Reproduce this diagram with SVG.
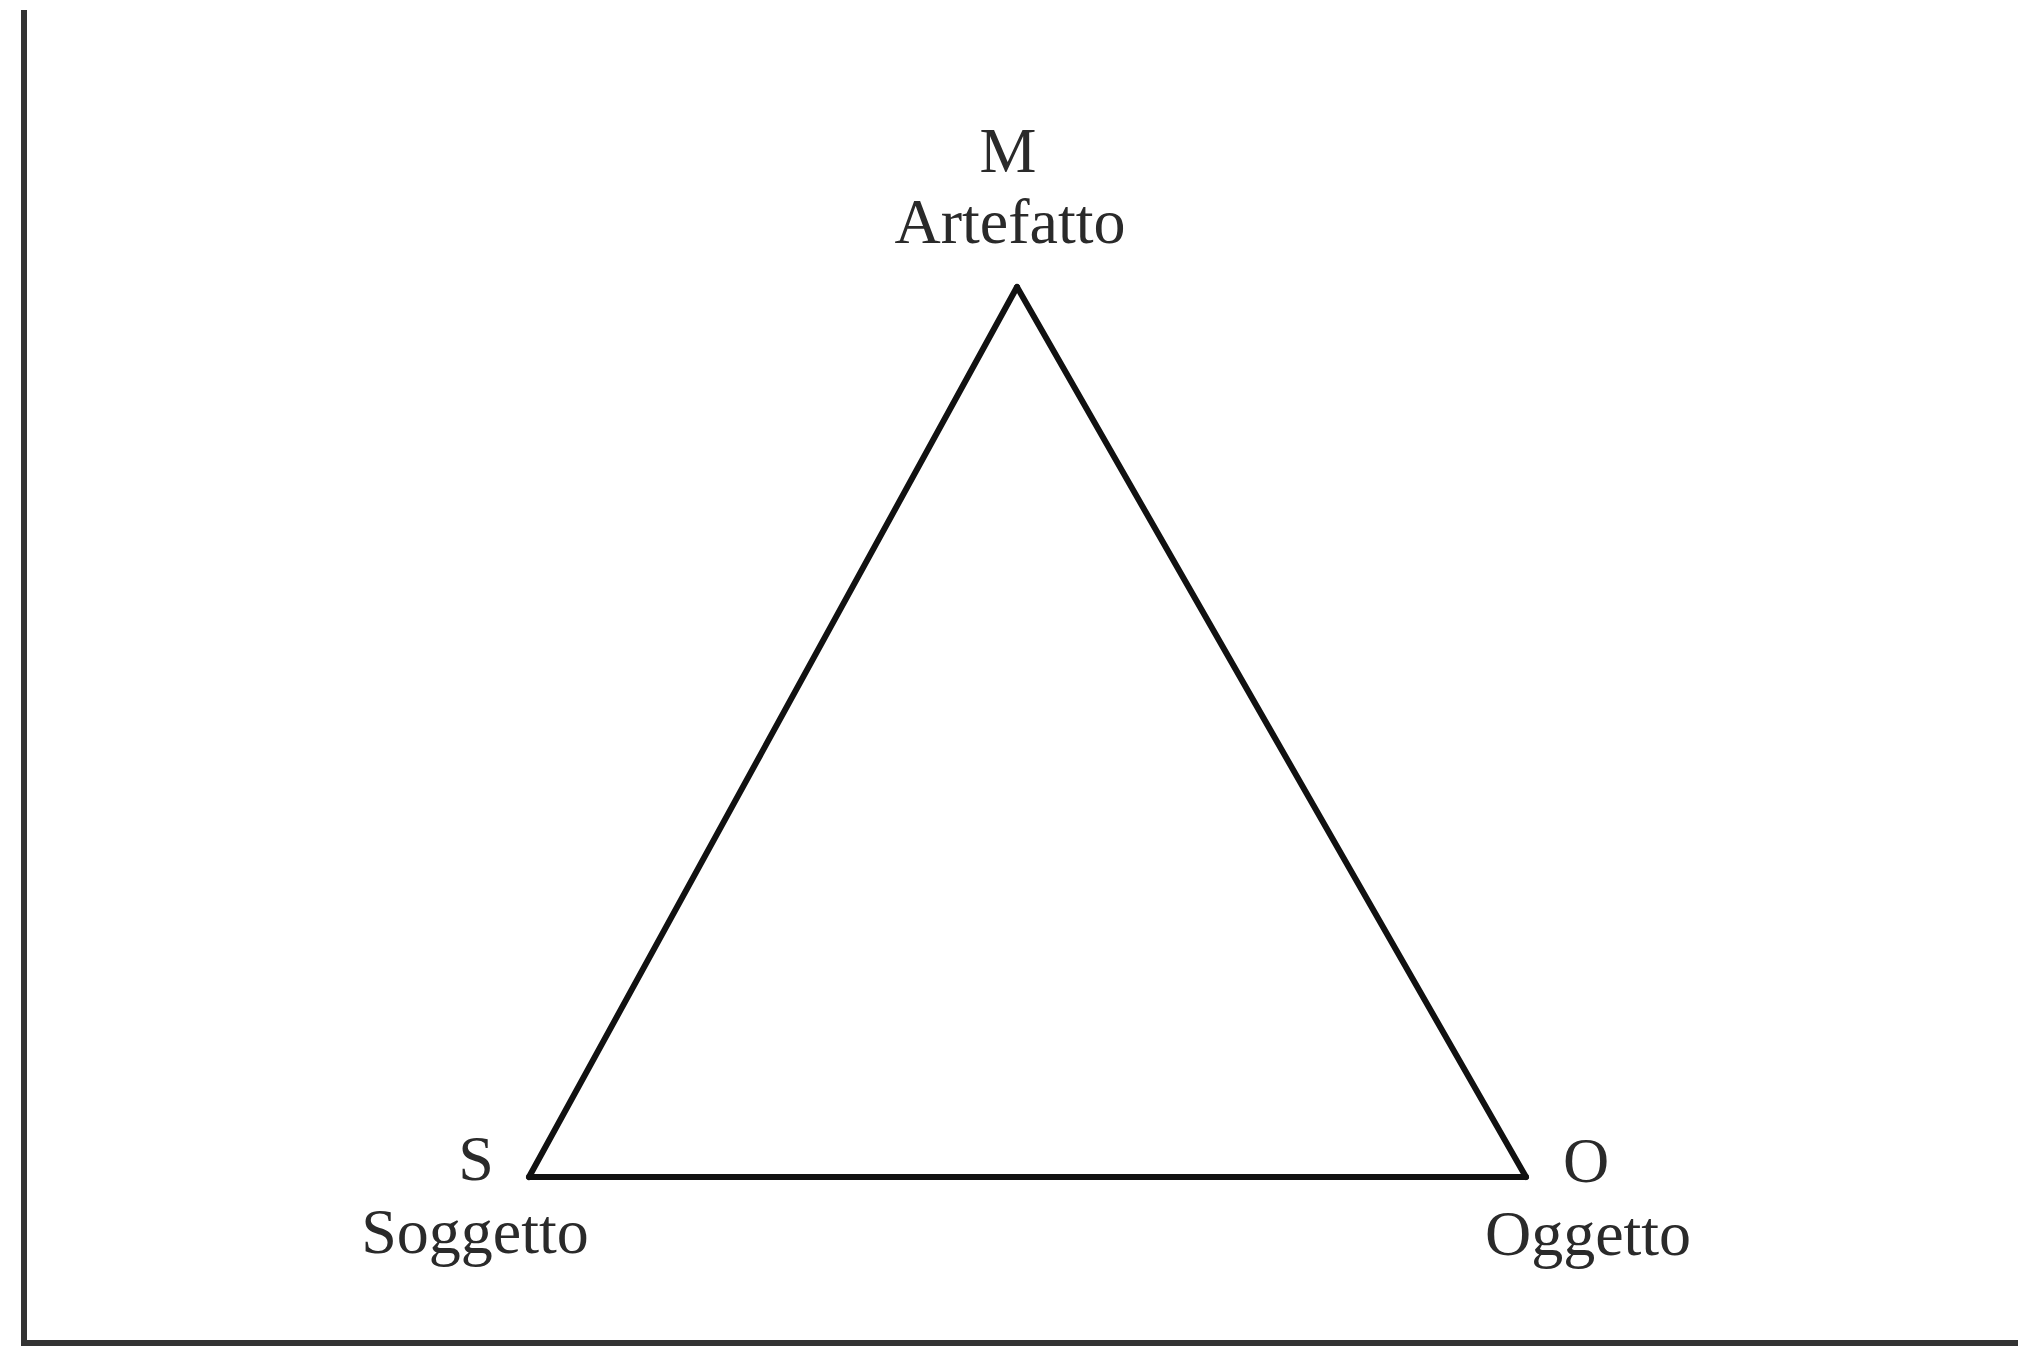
<svg xmlns="http://www.w3.org/2000/svg" width="2018" height="1347" viewBox="0 0 2018 1347">
<style>
.lbl{font-family:"Liberation Serif","Times New Roman",serif;font-size:64px;fill:#2a2a2a;text-anchor:middle}
.edge{stroke:#111;stroke-width:6;fill:none;stroke-linecap:round;stroke-linejoin:miter}
.frame{stroke:#333;stroke-width:6;fill:none}
</style>
<rect width="2018" height="1347" fill="#fff"/>
<path class="frame" d="M24 10 V1343 H2018"/>
<g id="connectors">
<line class="edge" x1="1017" y1="287" x2="529" y2="1177"/>
<line class="edge" x1="1017" y1="287" x2="1526" y2="1177"/>
<line class="edge" x1="529" y1="1177" x2="1526" y2="1177"/>
</g>
<g id="node-M">
<text class="lbl" x="1008" y="172">M</text>
<text class="lbl" x="1010" y="243">Artefatto</text>
</g>
<g id="node-S">
<text class="lbl" x="476" y="1180">S</text>
<text class="lbl" x="475" y="1253">Soggetto</text>
</g>
<g id="node-O">
<text class="lbl" x="1586" y="1182">O</text>
<text class="lbl" x="1588" y="1255">Oggetto</text>
</g>
</svg>
